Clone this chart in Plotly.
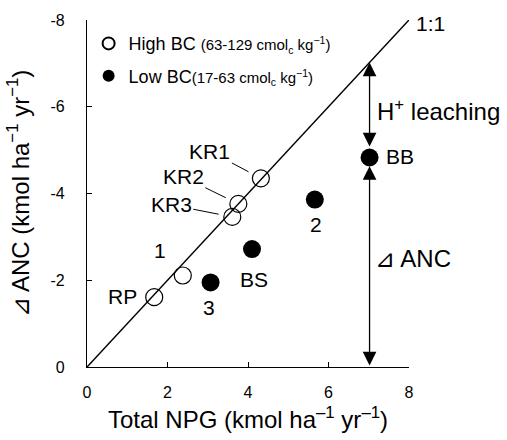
import plotly.graph_objects as go

# ---- data ----
high_names = ["RP", "1", "KR3", "KR2", "KR1"]
high_npg = [1.67, 2.38, 3.61, 3.76, 4.32]
high_anc = [-1.61, -2.11, -3.46, -3.76, -4.35]

low_names = ["3", "BS", "2", "BB"]
low_npg = [3.07, 4.10, 5.66, 7.02]
low_anc = [-1.95, -2.72, -3.86, -4.83]

one_to_one_x = [0, 8]
one_to_one_y = [0, -8]

x_tickvals = [0, 2, 4, 6, 8]
x_ticktext = ["0", "2", "4", "6", "8"]
y_tickvals = [0, -2, -4, -6, -8]
y_ticktext = ["0", "-2", "-4", "-6", "-8"]

FONT = "Liberation Sans, Arial, sans-serif"

# label styles (pixel offsets from point centre)
label_shift = {
    "RP": (-32, 1), "1": (-23, 25), "3": (-2, -25),
    "BS": (2, -30), "2": (1, -25), "BB": (30, 1),
}
leader_offsets = {"KR1": (-51, -27), "KR2": (-55, -27), "KR3": (-61, -12)}

fig = go.Figure()

fig.add_trace(go.Scatter(
    x=one_to_one_x, y=one_to_one_y, mode="lines",
    line=dict(color="black", width=1.5), showlegend=False, hoverinfo="skip"))

fig.add_trace(go.Scatter(
    x=high_npg, y=high_anc, mode="markers",
    name="High BC <span style='font-size:15px'>(63-129 cmol<sub>c</sub> kg<sup>−1</sup>)</span>",
    legendgroup="a",
    marker=dict(symbol="circle-open", size=17, color="black", line=dict(width=1.2))))

fig.add_trace(go.Scatter(
    x=low_npg, y=low_anc, mode="markers",
    name="Low BC<span style='font-size:15px'>(17-63 cmol<sub>c</sub> kg<sup>−1</sup>)</span>",
    legendgroup="b",
    marker=dict(symbol="circle", size=18, color="black")))

annotations = []
# point labels
for names, xs, ys in ((high_names, high_npg, high_anc), (low_names, low_npg, low_anc)):
    for n, x, y in zip(names, xs, ys):
        if n in label_shift:
            dx, dy = label_shift[n]
            annotations.append(dict(x=x, y=y, text=n, showarrow=False,
                                    xshift=dx, yshift=dy,
                                    font=dict(size=21, color="black", family=FONT)))
        elif n in leader_offsets:
            ax, ay = leader_offsets[n]
            annotations.append(dict(x=x, y=y, text=n, showarrow=True, arrowhead=0,
                                    arrowwidth=1, arrowcolor="black", ax=ax, ay=ay,
                                    standoff=14,
                                    font=dict(size=21, color="black", family=FONT)))

# 1:1 label
annotations.append(dict(x=one_to_one_x[1], y=one_to_one_y[1], text="1:1", showarrow=False,
                        xanchor="left", xshift=5, yshift=-3,
                        font=dict(size=21, color="black", family=FONT)))

# arrows at BB
bb_x, bb_y = low_npg[-1], low_anc[-1]
annotations.append(dict(x=bb_x, y=-bb_x, ax=bb_x, ay=bb_y - 0.22, axref="x", ayref="y",
                        xref="x", yref="y", text="", showarrow=True,
                        arrowside="end+start", arrowhead=2, startarrowhead=2,
                        arrowsize=2.1, startarrowsize=2.1, arrowwidth=1.3, arrowcolor="black"))
annotations.append(dict(x=bb_x, y=bb_y + 0.2, ax=bb_x, ay=0, axref="x", ayref="y",
                        xref="x", yref="y", text="", showarrow=True,
                        arrowside="end+start", arrowhead=2, startarrowhead=2,
                        arrowsize=2.1, startarrowsize=2.1, arrowwidth=1.3, arrowcolor="black"))
annotations.append(dict(x=bb_x, y=(-bb_x + bb_y) / 2, text="H<sup>+</sup> leaching",
                        showarrow=False, xanchor="left", xshift=5,
                        font=dict(size=24, color="black", family=FONT)))
annotations.append(dict(x=bb_x, y=-2.5, text="⊿ ANC",
                        showarrow=False, xanchor="left", xshift=3,
                        font=dict(size=24, color="black", family=FONT)))

fig.update_layout(
    width=507, height=440,
    margin=dict(l=87, r=98, t=20, b=70),
    paper_bgcolor="white", plot_bgcolor="white",
    font=dict(family=FONT, color="black"),
    annotations=annotations,
    legend=dict(x=0.005, y=0.985, xanchor="left", yanchor="top",
                itemsizing="constant", bgcolor="rgba(0,0,0,0)",
                font=dict(size=18, family=FONT, color="black"),
                traceorder="grouped", tracegroupgap=6),
    xaxis=dict(range=[0, 8], tickvals=x_tickvals, ticktext=x_ticktext,
               showline=True, linecolor="black", linewidth=1.2,
               ticks="inside", ticklen=5, tickcolor="black",
               showgrid=False, zeroline=False, ticklabelstandoff=11,
               tickfont=dict(size=16),
               title=dict(text="Total NPG (kmol ha<sup>–1</sup> yr<sup>–1</sup>)",
                          font=dict(size=24), standoff=10)),
    yaxis=dict(range=[0, -8], tickvals=y_tickvals, ticktext=y_ticktext,
               showline=True, linecolor="black", linewidth=1.2,
               ticks="inside", ticklen=5, tickcolor="black",
               showgrid=False, zeroline=False, ticklabelstandoff=18,
               tickfont=dict(size=16), automargin=True,
               title=dict(text="⊿ ANC (kmol ha<sup>−1</sup> yr<sup>−1</sup>)",
                          font=dict(size=24), standoff=14)),
)

fig.write_html("out.html")
